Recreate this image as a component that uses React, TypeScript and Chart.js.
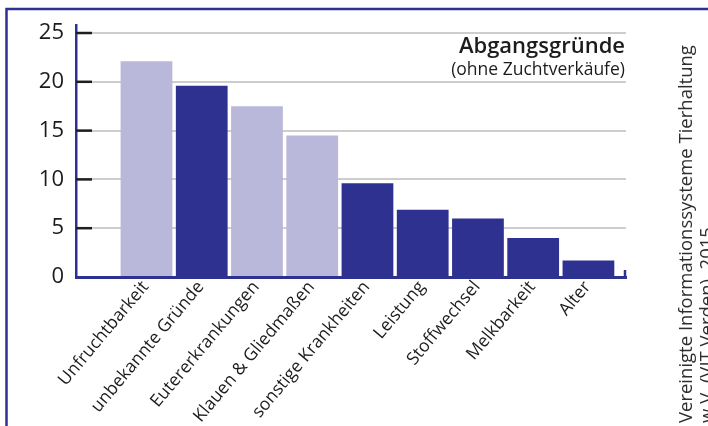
import { useEffect, useRef } from "react";
import { Chart, registerables } from "chart.js";

Chart.register(...registerables);

const categories = [
  "Unfruchtbarkeit",
  "unbekannte Gründe",
  "Eutererkrankungen",
  "Klauen & Gliedmaßen",
  "sonstige Krankheiten",
  "Leistung",
  "Stoffwechsel",
  "Melkbarkeit",
  "Alter",
];
const values = [22.1, 19.6, 17.5, 14.5, 9.6, 6.9, 6.0, 4.0, 1.7];
const lightBars = [0, 2, 3];
const yTickValues = [0, 5, 10, 15, 20, 25];
const titleText = "Abgangsgründe";
const subtitleText = "(ohne Zuchtverkäufe)";
const sourceLines = [
  "Vereinigte Informationssysteme Tierhaltung",
  "w.V. (VIT Verden), 2015",
];

const NAVY = "#2f3191";
const LAVENDER = "#b9b7da";
const TEXT = "#1c1c1c";
const FONT = "'Open Sans', 'DejaVu Sans', sans-serif";

export default function App() {
  const ref = useRef<HTMLCanvasElement>(null);

  useEffect(() => {
    const decor = {
      id: "decor",
      beforeDraw(chart: any) {
        const ctx = chart.ctx as CanvasRenderingContext2D;
        ctx.save();
        ctx.fillStyle = "#ffffff";
        ctx.fillRect(0, 0, chart.width, chart.height);
        ctx.strokeStyle = NAVY;
        ctx.lineWidth = 2.5;
        ctx.beginPath();
        ctx.moveTo(6.5, chart.height);
        ctx.lineTo(6.5, 9);
        ctx.lineTo(chart.width, 9);
        ctx.stroke();
        ctx.restore();
      },
      afterDraw(chart: any) {
        const ctx = chart.ctx as CanvasRenderingContext2D;
        const area = chart.chartArea;
        const ys = chart.scales.y;
        ctx.save();
        // tick marks inside the axis
        ctx.strokeStyle = "#1e1e1e";
        ctx.lineWidth = 2.5;
        for (const v of yTickValues) {
          if (v === 0) continue;
          const py = ys.getPixelForValue(v);
          ctx.beginPath();
          ctx.moveTo(area.left, py);
          ctx.lineTo(area.left + 16, py);
          ctx.stroke();
        }
        // small end tick on the x axis
        ctx.strokeStyle = NAVY;
        ctx.beginPath();
        ctx.moveTo(area.right - 1, area.bottom + 1);
        ctx.lineTo(area.right - 1, area.bottom - 7);
        ctx.stroke();
        // title
        ctx.fillStyle = TEXT;
        ctx.textAlign = "right";
        ctx.textBaseline = "alphabetic";
        ctx.font = `600 22px ${FONT}`;
        ctx.fillText(titleText, area.right - 1, 53);
        ctx.font = `17.5px ${FONT}`;
        ctx.fillText(subtitleText, area.right - 1, 75);
        // source text, vertical
        ctx.font = `18.5px ${FONT}`;
        ctx.fillStyle = "#2e2e2e";
        ctx.textAlign = "left";
        ctx.textBaseline = "middle";
        ctx.translate(0, 423);
        ctx.rotate(-Math.PI / 2);
        ctx.fillText(sourceLines[0], 0, 687);
        ctx.fillText(sourceLines[1], 0, 708);
        ctx.restore();
      },
    };

    const chart = new Chart(ref.current!, {
      type: "bar",
      data: {
        datasets: [
          {
            data: values.map((v, i) => ({ x: i, y: v })),
            backgroundColor: values.map((_, i) =>
              lightBars.includes(i) ? LAVENDER : NAVY
            ),
            borderWidth: 0,
            barPercentage: 0.937,
            categoryPercentage: 1,
          },
        ],
      },
      options: {
        animation: false,
        responsive: true,
        maintainAspectRatio: false,
        layout: { padding: { top: 23, right: 82, left: 0, bottom: 0 } },
        plugins: {
          legend: { display: false },
          tooltip: { enabled: false },
        },
        scales: {
          x: {
            type: "linear",
            min: -1.276,
            max: 8.68,
            offset: false,
            z: 1,
            grid: { display: false, drawTicks: false },
            border: { color: NAVY, width: 3 },
            afterBuildTicks: (s: any) => {
              s.ticks = categories.map((_, i) => ({ value: i }));
            },
            afterFit: (s: any) => {
              s.height = 149;
            },
            ticks: {
              autoSkip: false,
              minRotation: 50,
              maxRotation: 50,
              padding: 0,
              labelOffset: -1,
              color: TEXT,
              font: { family: FONT, size: 17.5 },
              callback: (v: any) => categories[v as number] ?? "",
            },
          },
          y: {
            min: 0,
            max: 25.8,
            grid: {
              color: (c: any) =>
                c.tick && c.tick.value === 0 ? "rgba(0,0,0,0)" : "#cdcdcd",
              lineWidth: 2,
              drawTicks: false,
            },
            border: { color: NAVY, width: 2.5 },
            afterBuildTicks: (s: any) => {
              s.ticks = yTickValues.map((v) => ({ value: v }));
            },
            afterFit: (s: any) => {
              s.width = 76;
            },
            ticks: {
              padding: 12,
              color: TEXT,
              font: { family: FONT, size: 22 },
            },
          },
        },
      },
      plugins: [decor],
    } as any);

    return () => chart.destroy();
  }, []);

  return (
    <div
      style={{
        position: "fixed",
        left: 0,
        top: 0,
        width: 708,
        height: 426,
        background: "#ffffff",
      }}
    >
      <canvas ref={ref} />
    </div>
  );
}
